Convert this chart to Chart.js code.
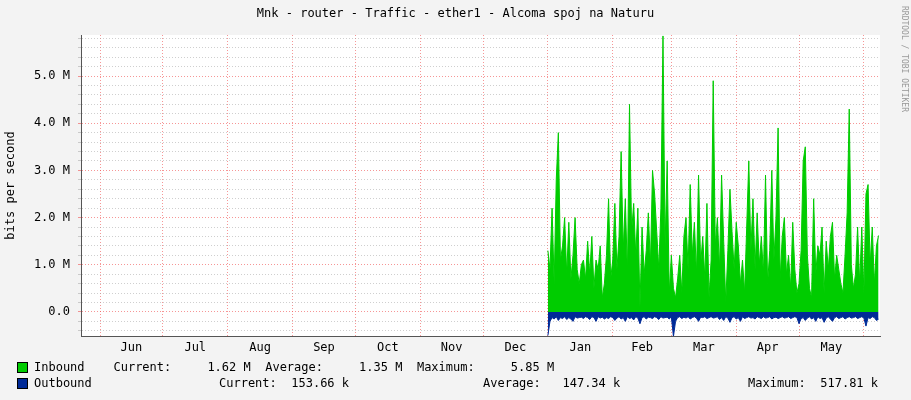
<!DOCTYPE html>
<html><head><meta charset="utf-8">
<script src="https://cdn.jsdelivr.net/npm/chart.js@4"></script>
<style>
body{margin:0;background:#f3f3f3;width:911px;height:400px;overflow:hidden;font-family:"DejaVu Sans Mono",monospace;}
#c{position:absolute;left:0;top:0;}
.t{position:absolute;font-size:12px;color:#000;white-space:pre;}
.sw{position:absolute;width:9px;height:9px;border:1px solid #000;}
</style></head><body>
<canvas id="c" width="911" height="400"></canvas>
<div class="t" style="left:0;width:911px;text-align:center;top:6px;">Mnk - router - Traffic - ether1 - Alcoma spoj na Naturu</div>
<div class="t" style="left:900px;top:6px;font-size:8px;color:#999;transform-origin:0 0;transform:rotate(90deg) translate(0,-9px);">RRDTOOL / TOBI OETIKER</div>
<div class="sw" style="left:17px;top:362px;background:#00cc00"></div>
<div class="sw" style="left:17px;top:378px;background:#002a97"></div>
<div class="t" style="left:34px;top:360px;">Inbound    Current:     1.62 M  Average:     1.35 M  Maximum:     5.85 M</div>
<div class="t" style="left:34px;top:376px;">Outbound</div>
<div class="t" style="left:219px;top:376px;">Current:  153.66 k</div>
<div class="t" style="left:483px;top:376px;">Average:   147.34 k</div>
<div class="t" style="left:748px;top:376px;">Maximum:  517.81 k</div>
<script>
// day index: 0 = 1 Jun (previous year)
const monthStarts=[0,30,61,92,122,153,183,214,245,273,304,334,365];
const monthLabels=["Jun","Jul","Aug","Sep","Oct","Nov","Dec","Jan","Feb","Mar","Apr","May"];
const firstDay=214;
// Mbit/s, daily samples from 1 Jan
const inbound=[1.3,0.9,2.2,0.6,2.8,3.8,1.1,1.4,2.0,0.8,
1.9,0.7,1.2,2.0,0.9,0.6,1.0,1.1,0.7,1.5,
0.8,1.6,0.5,1.1,0.9,1.4,0.3,0.6,1.2,2.4,
0.7,1.1,2.3,0.9,1.6,3.4,1.3,2.4,0.8,4.4,
1.7,2.3,1.2,2.2,0.1,1.8,0.8,1.3,2.1,1.0,
3.0,2.5,1.7,0.9,2.2,5.85,1.4,3.2,0.4,1.2,
0.5,0.3,0.7,1.2,0.4,1.6,2.0,0.9,2.7,1.2,
1.9,0.8,2.9,1.0,1.6,0.7,2.3,0.3,1.1,4.9,
1.4,2.0,0.9,2.9,1.5,0.2,1.3,2.6,1.7,0.9,
1.9,1.4,0.6,1.1,0.4,1.8,3.2,1.3,2.4,0.9,
2.1,1.0,1.6,0.8,2.9,0.6,1.3,3.0,1.1,2.0,
3.9,0.7,1.6,2.0,0.8,1.2,0.5,1.9,0.9,0.4,
0.6,1.3,3.2,3.5,1.2,0.5,0.3,2.4,0.8,1.4,
1.2,1.8,0.4,1.5,0.9,1.6,1.9,0.7,1.2,0.9,
0.6,0.4,1.2,2.1,4.3,1.0,0.5,0.8,1.8,0.6,
1.8,0.4,2.5,2.7,1.0,1.8,0.6,1.4,1.62];
const outbound=[0.5,0.2,0.12,0.15,0.1,0.18,0.12,0.14,0.1,0.16,
0.12,0.15,0.2,0.1,0.13,0.12,0.11,0.14,0.1,0.12,
0.16,0.1,0.12,0.2,0.1,0.13,0.11,0.15,0.12,0.14,
0.1,0.12,0.18,0.13,0.1,0.15,0.12,0.2,0.1,0.14,
0.12,0.17,0.1,0.13,0.25,0.12,0.1,0.15,0.11,0.12,
0.14,0.1,0.12,0.16,0.1,0.13,0.12,0.11,0.15,0.1,
0.52,0.2,0.12,0.1,0.14,0.11,0.13,0.1,0.15,0.12,
0.1,0.13,0.2,0.11,0.12,0.1,0.14,0.12,0.1,0.13,
0.12,0.1,0.16,0.12,0.18,0.1,0.13,0.22,0.12,0.1,
0.15,0.12,0.2,0.1,0.14,0.12,0.1,0.13,0.12,0.15,
0.1,0.12,0.14,0.1,0.13,0.12,0.1,0.15,0.12,0.11,
0.14,0.12,0.1,0.13,0.12,0.1,0.14,0.12,0.1,0.12,
0.25,0.14,0.12,0.18,0.13,0.1,0.15,0.12,0.2,0.1,
0.14,0.12,0.22,0.13,0.1,0.15,0.2,0.12,0.1,0.14,
0.12,0.1,0.15,0.12,0.1,0.13,0.12,0.1,0.14,0.12,
0.1,0.13,0.3,0.12,0.14,0.1,0.12,0.18,0.154];
const yTicks=[];for(let i=-2;i<=29;i++)yTicks.push(i/5);
const isMajor=v=>Math.abs(v-Math.round(v))<1e-6;
const bg={id:'bg',beforeDraw(c){const a=c.chartArea,x=c.ctx;x.save();x.fillStyle='#fff';x.fillRect(a.left,a.top,a.right-a.left,a.bottom-a.top);x.restore();}};
new Chart(document.getElementById('c'),{
type:'line',
data:{datasets:[
{data:inbound.map((v,i)=>({x:firstDay+i,y:v})),borderColor:'#00cc00',backgroundColor:'#00cc00',fill:'origin',borderWidth:1,pointRadius:0,tension:0},
{data:outbound.map((v,i)=>({x:firstDay+i,y:-v})),borderColor:'#002a97',backgroundColor:'#002a97',fill:'origin',borderWidth:1,pointRadius:0,tension:0}
]},
options:{responsive:false,animation:false,
layout:{padding:{left:4,right:31,top:35,bottom:44}},
plugins:{legend:{display:false},tooltip:{enabled:false}},
scales:{
x:{type:'linear',min:-9.1,max:372.7,position:'bottom',
 afterBuildTicks(s){s.ticks=monthStarts.map(v=>({value:v}));},
 afterFit(s){s.height=2;},
 ticks:{display:false},
 grid:{color:'rgba(240,80,80,0.6)',tickLength:0,drawTicks:false},
 border:{color:'#555',dash:[1,2]}},
x2:{type:'linear',min:-9.1,max:372.7,position:'bottom',
 afterBuildTicks(s){s.ticks=monthLabels.map((l,i)=>({value:(monthStarts[i]+monthStarts[i+1])/2}));},
 afterFit(s){s.height=18;},
 ticks:{maxRotation:0,autoSkip:false,color:'#000',font:{family:'DejaVu Sans Mono',size:12},padding:3,
  callback:(v,i)=>monthLabels[i]},
 grid:{display:false,drawTicks:false,tickLength:0},border:{display:false}},
y:{min:-0.51,max:5.87,
 afterBuildTicks(s){s.ticks=yTicks.map(v=>({value:v}));},
 afterFit(s){s.width=77;},
 title:{display:true,text:'bits per second',color:'#000',font:{family:'DejaVu Sans Mono',size:12},padding:0},
 ticks:{autoSkip:false,color:'#000',font:{family:'DejaVu Sans Mono',size:12},padding:8,
  callback:v=>isMajor(v)?(Math.round(v)===0?'0.0':Math.round(v).toFixed(1)+' M'):''},
 grid:{color:c=>isMajor(c.tick.value)?'rgba(240,80,80,0.6)':'rgba(160,160,160,0.5)',tickLength:3},
 border:{color:'#555',dash:[1,2]}}
}},
plugins:[bg]});
</script></body></html>
